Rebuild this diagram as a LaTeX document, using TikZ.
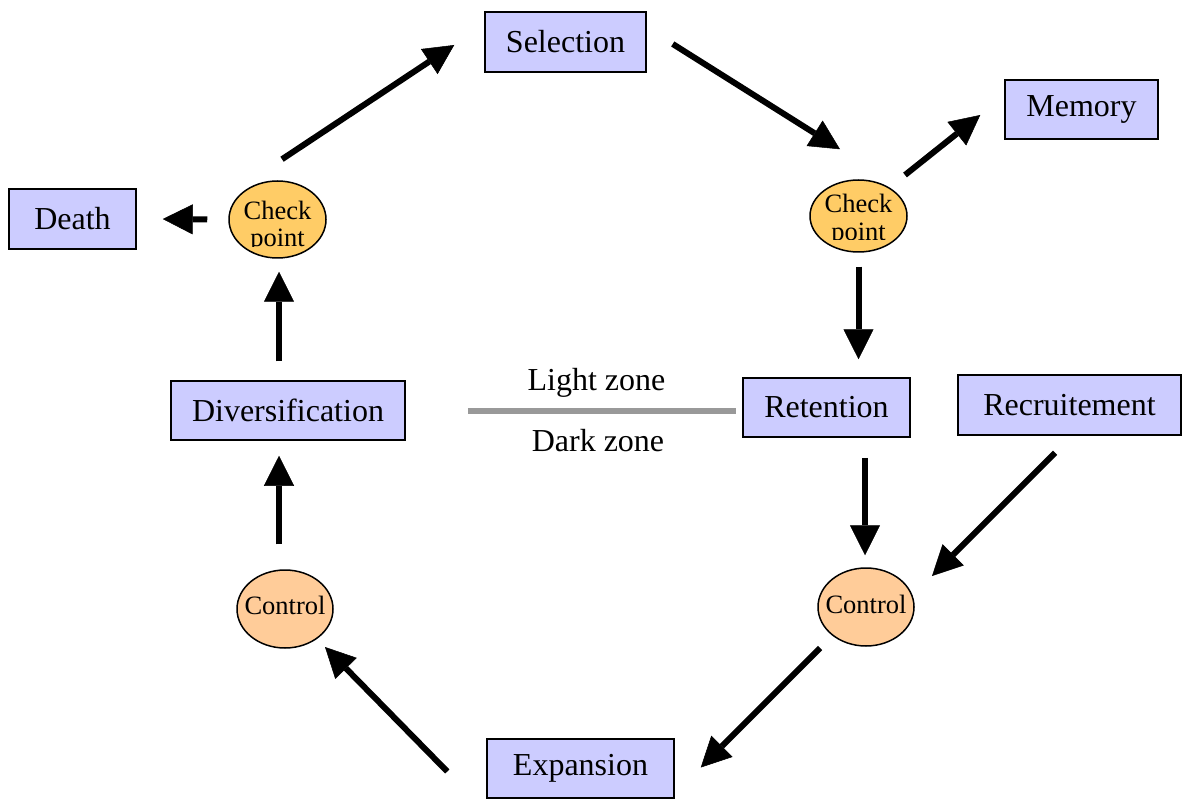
\documentclass[tikz,border=0pt]{standalone}
\usepackage{fontspec}
\setmainfont{Liberation Serif}
\usetikzlibrary{arrows.meta,calc,shapes.geometric}
\definecolor{boxfill}{RGB}{204,204,255}
\definecolor{cpfill}{RGB}{255,204,102}
\definecolor{ctfill}{RGB}{255,204,153}
\definecolor{zonegray}{RGB}{153,153,153}
\begin{document}
\begin{tikzpicture}[x=1pt,y=-1pt,
  box/.style={draw=black,line width=1.5pt,fill=boxfill,inner sep=0pt,
    font=\fontsize{32}{36}\selectfont},
  cp/.style={ellipse,draw=black,line width=1.5pt,fill=cpfill,inner sep=0pt,
    minimum width=97,minimum height=#1},
  ct/.style={ellipse,draw=black,line width=1.5pt,fill=ctfill,inner sep=0pt,
    minimum width=96,minimum height=78},
  smalltxt/.style={inner sep=0pt,anchor=base,font=\fontsize{26.5}{27}\selectfont},
  bigtxt/.style={inner sep=0pt,anchor=base,font=\fontsize{32}{36}\selectfont},
  arr/.style={line width=6pt,-{Triangle[length=30pt,width=30pt,line width=0.5pt]}},
  zone/.style={line width=6pt,draw=zonegray}]
\useasboundingbox (0,0) rectangle (1182,799);

% boxes
\node[box,minimum width=161,minimum height=60] (sel) at (565.5,42) {Selection};
\node[box,minimum width=153,minimum height=59] (mem) at (1081.5,109.5) {Memory};
\node[box,minimum width=127,minimum height=60] (death) at (72.5,219) {Death};
\node[box,minimum width=234,minimum height=59] (div) at (288,410.5) {Diversification};
\node[box,minimum width=167,minimum height=59] (ret) at (826.5,407.5) {Retention};
\node[box,minimum width=223,minimum height=60] (rec) at (1069.5,405) {Recruitement};
\node[box,minimum width=187,minimum height=59] (exp) at (580.5,768.5) {Expansion};

% checkpoints
\node[cp=77] (cpL) at (277.5,219.5) {};
\node[cp=72] (cpR) at (858.5,216) {};
\begin{scope}
  \clip (cpL.west |- cpL.north) rectangle ([shift={(0,-12)}]cpL.east |- cpL.south);
  \node[smalltxt] (cpLa) at (cpL.center) {Check};
  \node[smalltxt] (cpLb) at ([shift={(0,27)}]cpL.center) {point};
\end{scope}
\begin{scope}
  \clip (cpR.west |- cpR.north) rectangle ([shift={(0,-13)}]cpR.east |- cpR.south);
  \node[smalltxt] (cpRa) at ([shift={(0,-3)}]cpR.center) {Check};
  \node[smalltxt] (cpRb) at ([shift={(0,25)}]cpR.center) {point};
\end{scope}

% controls
\node[ct] (ctL) at (285,609) {};
\node[smalltxt] (ctLt) at ([shift={(0,5)}]ctL.center) {Control};
\node[ct] (ctR) at (866,607) {};
\node[smalltxt] (ctRt) at ([shift={(0,6)}]ctR.center) {Control};

% zone separator
\draw[zone] ([shift={(62,0)}]div.east) -- ([shift={(-6,0)}]div.east -| ret.west);
\node[bigtxt] (light) at (596.5,390) {Light zone};
\node[bigtxt] (dark) at (598,451) {Dark zone};

% arrows
\draw[arr] ([shift={(4.5,-21)}]cpL.north) -- ([shift={(-30,3)}]sel.west);
\draw[arr] ([shift={(26,2)}]sel.east) -- ([shift={(-18.5,-30)}]cpR.north);
\draw[arr] ([shift={(46.5,-41)}]cpR.center) -- ([shift={(-24,5.5)}]mem.west);
\draw[arr] ([shift={(-21,0)}]cpL.west) -- ([shift={(26,0)}]death.east);
\draw[arr] ([shift={(0,14)}]cpR.south) -- ([shift={(0,-18)}]cpR.south |- ret.north);
\draw[arr] ([shift={(1.5,-19)}]cpL.south |- div.north) -- ([shift={(1.5,13)}]cpL.south);
\draw[arr] ([shift={(-1,20)}]ctR.north |- ret.south) -- ([shift={(-1,-12)}]ctR.north);
\draw[arr] ([shift={(-14.5,17)}]rec.south) -- ([shift={(66,-31)}]ctR.center);
\draw[arr] ([shift={(-46,41)}]ctR.center) -- ([shift={(26,-1)}]exp.east);
\draw[arr] ([shift={(-39,3)}]exp.west) -- ([shift={(40,38)}]ctL.center);
\draw[arr] ([shift={(-6,-25)}]ctL.north) -- ([shift={(-6,15)}]ctL.north |- div.south);
\end{tikzpicture}
\end{document}
